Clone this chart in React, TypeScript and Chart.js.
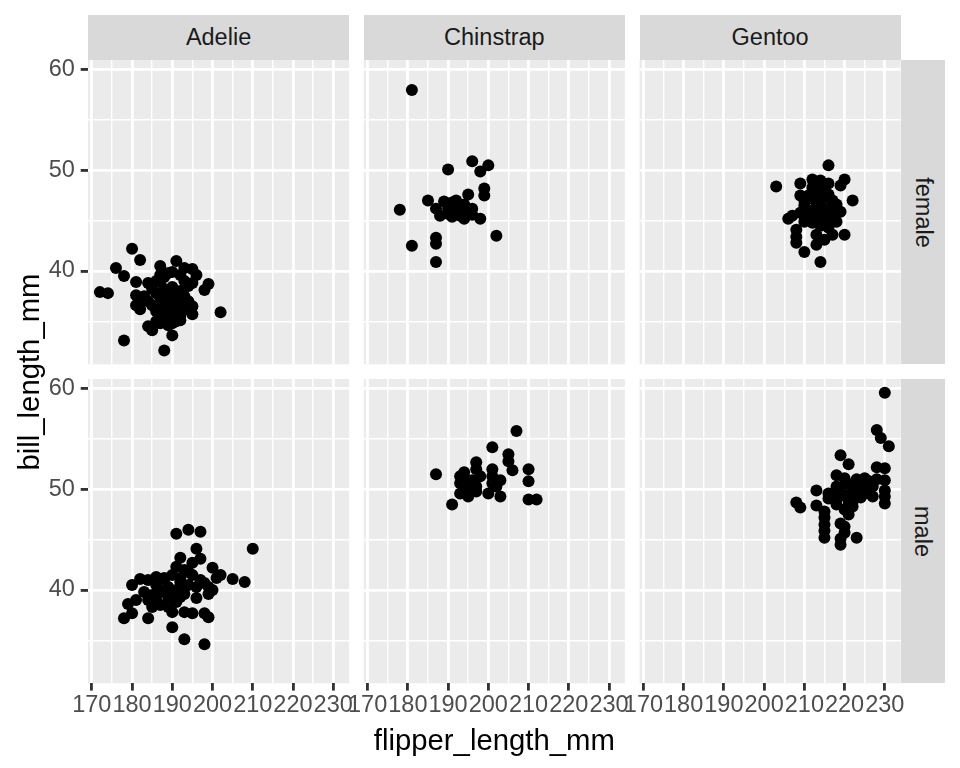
import React, { useEffect, useRef } from "react";
import { Chart, registerables } from "chart.js";

Chart.register(...registerables);

// ---------- data ----------
const speciesNames = ["Adelie", "Chinstrap", "Gentoo"];
const sexNames = ["female", "male"];
const xMajorTicks = [170, 180, 190, 200, 210, 220, 230];
const xMinorTicks = [175, 185, 195, 205, 215, 225];
const yMajorTicks = [40, 50, 60];
const yMinorTicks = [35, 45, 55];
const xLimits = [169.05, 233.95];
const yLimits = [30.725, 60.975];
const xTitle = "flipper_length_mm";
const yTitle = "bill_length_mm";

const adelieFemaleFlipper = [180, 182, 191, 176, 178, 187, 193, 195, 196, 199, 198, 172, 174, 181, 195, 202, 178, 188, 190, 184, 185, 181, 195, 195, 187, 188, 187, 189, 190, 192, 193, 194, 192, 190, 188, 181, 182, 183, 182, 184, 185, 186, 187, 188, 189, 190, 191, 192, 190, 189, 188, 187, 186, 185, 191, 189, 187, 193, 192, 194, 190, 186, 191, 193, 192, 192, 184, 186, 186, 188, 189, 190, 191, 188, 187, 189, 191, 190];
const adelieFemaleBill = [42.2, 41.1, 41.0, 40.3, 39.5, 40.5, 40.3, 40.2, 39.6, 38.7, 38.1, 37.9, 37.8, 38.9, 38.8, 35.9, 33.1, 32.1, 33.6, 34.5, 34.1, 36.6, 36.5, 35.7, 39.6, 39.4, 38.9, 39.8, 39.9, 39.6, 39.0, 38.5, 38.0, 38.4, 38.2, 37.6, 37.0, 37.5, 36.2, 37.0, 36.6, 36.0, 35.5, 35.0, 35.5, 36.0, 36.5, 37.0, 37.5, 38.0, 36.8, 37.3, 37.8, 38.2, 35.0, 34.6, 34.8, 36.2, 35.6, 37.0, 34.8, 35.0, 37.9, 37.5, 36.6, 35.1, 38.8, 39.0, 36.5, 36.0, 36.8, 35.5, 36.0, 37.7, 36.2, 37.2, 37.2, 36.6];

const adelieMaleFlipper = [191, 194, 197, 210, 196, 192, 197, 191, 195, 200, 202, 205, 208, 182, 184, 180, 188, 199, 181, 179, 178, 180, 184, 185, 189, 190, 193, 195, 198, 199, 190, 193, 198, 196, 193, 186, 187, 188, 189, 191, 192, 194, 196, 195, 193, 183, 185, 184, 189, 191, 190, 186, 194, 192, 197, 198, 187, 200, 201, 199, 186, 188, 190, 192, 193];
const adelieMaleBill = [45.6, 46.0, 45.8, 44.1, 44.1, 43.2, 43.1, 42.3, 42.7, 42.2, 41.5, 41.1, 40.8, 41.1, 41.0, 40.5, 41.1, 40.3, 39.0, 38.6, 37.2, 37.7, 37.2, 38.3, 38.3, 37.8, 37.8, 37.7, 37.7, 37.3, 36.3, 35.1, 34.6, 39.2, 39.6, 40.5, 39.8, 41.2, 40.3, 40.0, 40.8, 40.5, 40.3, 41.5, 42.0, 39.8, 39.5, 39.0, 39.2, 38.8, 41.5, 41.3, 41.8, 39.3, 41.0, 40.7, 38.5, 40.0, 41.2, 39.6, 39.0, 40.0, 39.4, 41.2, 40.2];

const chinstrapFemaleFlipper = [181, 190, 196, 200, 198, 199, 199, 195, 185, 178, 189, 187, 188, 191, 192, 192, 194, 195, 196, 193, 190, 198, 202, 181, 187, 187, 187, 191, 194, 196, 193, 190];
const chinstrapFemaleBill = [58.0, 50.1, 50.9, 50.5, 49.9, 48.2, 47.5, 47.6, 47.0, 46.1, 46.9, 46.2, 45.5, 45.4, 47.0, 46.4, 46.6, 45.9, 45.6, 45.9, 46.2, 45.2, 43.5, 42.5, 43.3, 42.7, 40.9, 46.8, 45.2, 46.2, 45.5, 45.7];

const chinstrapMaleFlipper = [207, 201, 205, 205, 206, 210, 210, 210, 212, 187, 191, 197, 197, 194, 193, 193, 193, 195, 201, 200, 203, 203, 196, 198, 196, 197, 201, 201, 202, 195, 194, 197];
const chinstrapMaleBill = [55.8, 54.2, 53.5, 52.8, 51.9, 52.0, 50.8, 49.0, 49.0, 51.5, 48.5, 52.7, 52.0, 51.7, 51.3, 50.6, 49.6, 49.3, 52.0, 49.6, 50.9, 49.3, 50.4, 51.3, 50.9, 50.3, 51.3, 50.6, 50.3, 50.2, 50.8, 49.8];

const gentooFemaleFlipper = [216, 203, 212, 220, 219, 222, 209, 209, 219, 206, 208, 208, 208, 210, 214, 213, 213, 215, 217, 220, 210, 210, 211, 212, 213, 214, 215, 216, 217, 212, 214, 215, 216, 211, 213, 215, 217, 218, 209, 210, 212, 216, 214, 218, 207, 211, 212, 213, 214, 215, 216, 217, 213, 214, 210, 212, 216];
const gentooFemaleBill = [50.5, 48.4, 49.1, 49.1, 48.5, 47.0, 48.7, 47.5, 45.9, 45.2, 44.1, 43.4, 42.8, 41.9, 40.9, 42.6, 43.6, 43.1, 43.6, 43.6, 47.0, 46.5, 47.5, 46.0, 45.5, 46.8, 47.3, 46.2, 45.6, 44.8, 44.5, 45.0, 44.3, 45.2, 48.0, 48.2, 47.0, 46.6, 45.8, 44.9, 47.2, 48.7, 49.0, 44.9, 45.5, 46.0, 45.5, 46.5, 47.5, 46.0, 45.2, 46.3, 44.9, 45.8, 45.5, 48.3, 47.6];

const gentooMaleFlipper = [230, 228, 229, 231, 219, 221, 228, 230, 218, 220, 225, 228, 230, 213, 208, 209, 213, 216, 216, 218, 219, 230, 230, 230, 227, 215, 215, 215, 215, 215, 219, 221, 220, 220, 219, 219, 223, 221, 222, 224, 223, 226, 222, 220, 218, 217, 221, 225, 227, 220, 222, 223, 225, 226, 221, 222, 222, 224, 218, 223];
const gentooMaleBill = [59.6, 55.9, 55.1, 54.3, 53.4, 52.5, 52.2, 52.1, 51.4, 51.1, 51.1, 51.0, 50.9, 49.9, 48.7, 48.2, 48.4, 49.6, 49.1, 50.3, 50.1, 49.9, 49.3, 48.6, 49.3, 47.8, 47.2, 46.5, 45.9, 45.2, 46.6, 47.5, 46.3, 45.7, 45.1, 44.5, 45.2, 48.9, 49.3, 50.0, 50.4, 50.8, 50.3, 48.0, 48.5, 49.5, 50.5, 49.6, 50.3, 49.4, 49.9, 50.3, 50.6, 50.8, 48.4, 48.3, 48.8, 49.2, 49.0, 51.0];

const panelSeries = [
  [
    [adelieFemaleFlipper, adelieFemaleBill],
    [chinstrapFemaleFlipper, chinstrapFemaleBill],
    [gentooFemaleFlipper, gentooFemaleBill],
  ],
  [
    [adelieMaleFlipper, adelieMaleBill],
    [chinstrapMaleFlipper, chinstrapMaleBill],
    [gentooMaleFlipper, gentooMaleBill],
  ],
];

// ---------- layout ----------
const W = 960;
const H = 768;
const COL_X = [88, 363.8, 639.6];
const PANEL_W = 261.1;
const ROW_Y = [60, 379];
const PANEL_H = 304.3;
const STRIP_TOP_Y = 15;
const STRIP_TOP_H = 45;
const STRIP_RIGHT_X = 900.7;
const STRIP_RIGHT_W = 44.3;
const Y_AXIS_W = 70;
const X_AXIS_H = 50;
const FONT = "'Liberation Sans', Arial, Helvetica, sans-serif";

const panelBg = {
  id: "panelBg",
  beforeDraw(chart: any) {
    const { ctx, chartArea } = chart;
    ctx.save();
    ctx.fillStyle = "#EBEBEB";
    ctx.fillRect(chartArea.left, chartArea.top, chartArea.right - chartArea.left, chartArea.bottom - chartArea.top);
    ctx.restore();
  },
};

function Panel({ row, col }: { row: number; col: number }) {
  const ref = useRef<HTMLCanvasElement | null>(null);
  useEffect(() => {
    if (!ref.current) return;
    const [xs, ys] = panelSeries[row][col];
    const isLeft = col === 0;
    const isBottom = row === 1;
    const allX = [...xMajorTicks, ...xMinorTicks].sort((a, b) => a - b);
    const allY = [...yMajorTicks, ...yMinorTicks].sort((a, b) => a - b);
    const gridColor = "#FFFFFF";
    const chart = new Chart(ref.current, {
      type: "scatter",
      data: {
        datasets: [
          {
            data: xs.map((x: number, i: number) => ({ x, y: ys[i] })),
            backgroundColor: "#000000",
            borderWidth: 0,
            pointRadius: 6,
            pointHoverRadius: 6,
          },
        ],
      },
      options: {
        responsive: false,
        animation: false,
        events: [],
        layout: {
          padding: {
            left: COL_X[col] - (isLeft ? Y_AXIS_W : 0),
            top: ROW_Y[row],
            right: W - COL_X[col] - PANEL_W,
            bottom: H - ROW_Y[row] - PANEL_H - (isBottom ? X_AXIS_H : 0),
          },
        },
        plugins: { legend: { display: false }, tooltip: { enabled: false } },
        scales: {
          x: {
            type: "linear",
            min: xLimits[0],
            max: xLimits[1],
            afterBuildTicks: (s: any) => {
              s.ticks = allX.map((v) => ({ value: v }));
            },
            afterFit: (s: any) => {
              s.height = isBottom ? X_AXIS_H : 0;
            },
            border: { display: false },
            ticks: {
              display: isBottom,
              autoSkip: false,
              maxRotation: 0,
              minRotation: 0,
              padding: 1,
              color: "#4D4D4D",
              font: { family: FONT, size: 23.5, lineHeight: 1.2 },
              callback: (v: any) => (xMajorTicks.includes(Number(v)) ? String(v) : ""),
            },
            grid: {
              drawTicks: isBottom,
              tickLength: 7.3,
              color: gridColor,
              lineWidth: (c: any) => (xMajorTicks.includes(c.tick?.value) ? 2.84 : 1.42),
              tickColor: (c: any) => (xMajorTicks.includes(c.tick?.value) ? "#333333" : "rgba(0,0,0,0)"),
              tickWidth: 2.84,
            },
          },
          y: {
            type: "linear",
            min: yLimits[0],
            max: yLimits[1],
            afterBuildTicks: (s: any) => {
              s.ticks = allY.map((v) => ({ value: v }));
            },
            afterFit: (s: any) => {
              s.width = isLeft ? Y_AXIS_W : 0;
            },
            border: { display: false },
            ticks: {
              display: isLeft,
              autoSkip: false,
              padding: 5.9,
              color: "#4D4D4D",
              font: { family: FONT, size: 23.5, lineHeight: 1.2 },
              callback: (v: any) => (yMajorTicks.includes(Number(v)) ? String(v) : ""),
            },
            grid: {
              drawTicks: isLeft,
              tickLength: 7.3,
              color: gridColor,
              lineWidth: (c: any) => (yMajorTicks.includes(c.tick?.value) ? 2.84 : 1.42),
              tickColor: (c: any) => (yMajorTicks.includes(c.tick?.value) ? "#333333" : "rgba(0,0,0,0)"),
              tickWidth: 2.84,
            },
          },
        },
      } as any,
      plugins: [panelBg],
    });
    return () => chart.destroy();
  }, [row, col]);
  return (
    <canvas
      ref={ref}
      width={W}
      height={H}
      style={{ position: "absolute", left: 0, top: 0, width: W, height: H }}
    />
  );
}

export default function App() {
  const stripText: React.CSSProperties = {
    position: "absolute",
    background: "#D9D9D9",
    color: "#1A1A1A",
    fontFamily: FONT,
    fontSize: 23.5,
    display: "flex",
    alignItems: "center",
    justifyContent: "center",
    whiteSpace: "nowrap",
  };
  return (
    <div style={{ position: "fixed", left: 0, top: 0, width: W, height: H, background: "#FFFFFF", overflow: "hidden" }}>
      {speciesNames.map((s, c) => (
        <div key={s} style={{ ...stripText, left: COL_X[c], top: STRIP_TOP_Y, width: PANEL_W, height: STRIP_TOP_H }}>
          {s}
        </div>
      ))}
      {sexNames.map((s, r) => (
        <div key={s} style={{ ...stripText, left: STRIP_RIGHT_X, top: ROW_Y[r], width: STRIP_RIGHT_W, height: PANEL_H }}>
          <span style={{ display: "inline-block", transform: "rotate(90deg)" }}>{s}</span>
        </div>
      ))}
      {[0, 1].map((r) => [0, 1, 2].map((c) => <Panel key={`${r}-${c}`} row={r} col={c} />))}
      <div
        style={{
          position: "absolute",
          left: COL_X[0],
          width: COL_X[2] + PANEL_W - COL_X[0],
          top: 724,
          height: 32,
          lineHeight: "32px",
          textAlign: "center",
          fontFamily: FONT,
          fontSize: 29.3,
          color: "#000000",
          whiteSpace: "nowrap",
        }}
      >
        {xTitle}
      </div>
      <div
        style={{
          position: "absolute",
          left: 29 - 200,
          top: (ROW_Y[0] + ROW_Y[1] + PANEL_H) / 2 - 16,
          width: 400,
          height: 32,
          lineHeight: "32px",
          textAlign: "center",
          fontFamily: FONT,
          fontSize: 29.3,
          color: "#000000",
          whiteSpace: "nowrap",
          transform: "rotate(-90deg)",
        }}
      >
        {yTitle}
      </div>
    </div>
  );
}
